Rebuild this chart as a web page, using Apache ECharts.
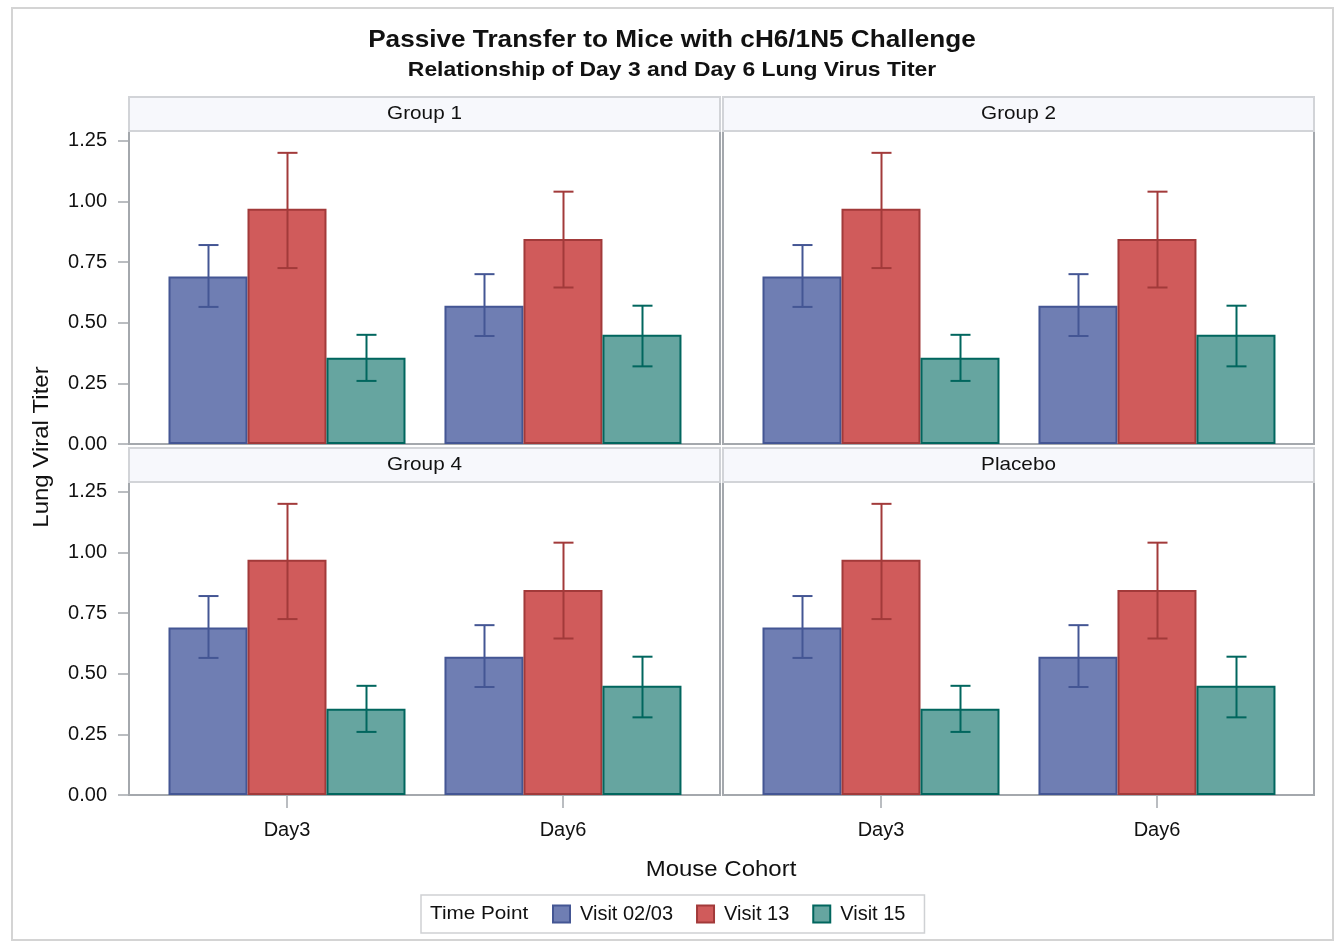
<!DOCTYPE html>
<html>
<head>
<meta charset="utf-8">
<title>Passive Transfer to Mice with cH6/1N5 Challenge</title>
<script src="https://cdn.jsdelivr.net/npm/echarts@6/dist/echarts.min.js"></script>
<style>
  html, body { margin: 0; padding: 0; background: #fff; }
  #chart { width: 1340px; height: 942px; }
</style>
</head>
<body>
<div id="chart"></div>
<script>
// ---- data -------------------------------------------------------------
const panels = ['Group 1', 'Group 2', 'Group 4', 'Placebo'];
const cohorts = ['Day3', 'Day6'];
const visits = ['Visit 02/03', 'Visit 13', 'Visit 15'];

// mean lung viral titer per cohort (Day3, Day6)
const visit0203Mean = [0.69, 0.57];
const visit13Mean   = [0.97, 0.845];
const visit15Mean   = [0.355, 0.45];

// lower / upper error limits per cohort
const visit0203Low  = [0.565, 0.445];
const visit0203High = [0.82, 0.70];
const visit13Low    = [0.725, 0.645];
const visit13High   = [1.20, 1.04];
const visit15Low    = [0.26, 0.32];
const visit15High   = [0.45, 0.57];

const yTicks = [0, 0.25, 0.5, 0.75, 1.0, 1.25];

// ---- styling ----------------------------------------------------------
const FONT = '"Liberation Sans", Arial, Helvetica, sans-serif';
const fills   = ['#6F7EB3', '#D05B5B', '#66A5A0'];
const borders = ['#445694', '#A23A3A', '#01665E'];
const FRAME = '#a4a8ad';
const TEXT = '#111';
const WIDEN = 1.09;          // slightly wide lettering for free-standing texts
const BAR_PX = 79;
const CAP_PX = 20;

const means = [visit0203Mean, visit13Mean, visit15Mean];
const lows  = [visit0203Low, visit13Low, visit15Low];
const highs = [visit0203High, visit13High, visit15High];

// panel frames: [left, top] of each plot area
const PW = 591, PH = 313;
const frames = [[129, 131], [723, 131], [129, 482], [723, 482]];
const HEADER_H = 34;

const grids = [], xAxes = [], yAxes = [], series = [], graphics = [];

function label(text, x, y, font, opts) {
  return Object.assign({
    type: 'text', x: x, y: y, scaleX: WIDEN, z: 10,
    style: { text: text, font: font + ' ' + FONT, fill: TEXT,
      textAlign: (opts && opts.align) || 'center', textVerticalAlign: 'middle' }
  }, opts && opts.rotation ? { rotation: opts.rotation } : {});
}

frames.forEach(([l, t], p) => {
  const isLeft = (p % 2 === 0);
  const isBottom = (p >= 2);
  grids.push({ left: l, top: t, width: PW, height: PH, show: true,
    borderColor: FRAME, borderWidth: 2, backgroundColor: '#fff' });

  xAxes.push({
    type: 'value', gridIndex: p, min: -0.5725, max: 1.569,
    splitLine: { show: false },
    axisLine: { show: true, onZero: false, lineStyle: { color: FRAME, width: 2 } },
    axisTick: { show: isBottom, customValues: [0, 1], length: 13,
      lineStyle: { color: FRAME, width: 1.5 } },
    axisLabel: { show: isBottom, customValues: [0, 1], margin: 25,
      fontFamily: FONT, fontSize: 20, color: TEXT,
      formatter: v => cohorts[Math.round(v)] }
  });

  yAxes.push({
    type: 'value', gridIndex: p, min: 0, max: 1.29,
    splitLine: { show: false },
    axisLine: { show: true, onZero: false, lineStyle: { color: FRAME, width: 2 } },
    axisTick: { show: isLeft, customValues: yTicks, length: 11,
      lineStyle: { color: FRAME, width: 1.5 } },
    axisLabel: { show: isLeft, customValues: yTicks, margin: 22,
      fontFamily: FONT, fontSize: 20, color: TEXT,
      formatter: v => v.toFixed(2) }
  });

  visits.forEach((name, k) => {
    series.push({
      type: 'bar', name: name, xAxisIndex: p, yAxisIndex: p,
      barWidth: BAR_PX, barGap: '0%',
      itemStyle: { color: fills[k], borderColor: borders[k], borderWidth: 2 },
      emphasis: { disabled: true },
      data: cohorts.map((c, i) => [i, means[k][i]]),
      z: 2
    });
  });

  visits.forEach((name, k) => {
    const offset = (k - 1) * BAR_PX;
    series.push({
      type: 'custom', name: name + ' limits', xAxisIndex: p, yAxisIndex: p,
      encode: { x: 0, y: [1, 2] },
      data: cohorts.map((c, i) => [i, lows[k][i], highs[k][i]]),
      z: 5,
      renderItem: (params, api) => {
        const lo = api.coord([api.value(0), api.value(1)]);
        const hi = api.coord([api.value(0), api.value(2)]);
        const cx = Math.round(lo[0] + offset) + 0.5;
        const st = { stroke: borders[k], lineWidth: 2 };
        return { type: 'group', children: [
          { type: 'line', shape: { x1: cx, y1: lo[1], x2: cx, y2: hi[1] }, style: st },
          { type: 'line', shape: { x1: cx - CAP_PX / 2, y1: hi[1], x2: cx + CAP_PX / 2, y2: hi[1] }, style: st },
          { type: 'line', shape: { x1: cx - CAP_PX / 2, y1: lo[1], x2: cx + CAP_PX / 2, y2: lo[1] }, style: st }
        ]};
      }
    });
  });

  // panel header strip
  graphics.push({
    type: 'rect', shape: { x: l, y: t - HEADER_H, width: PW, height: HEADER_H },
    style: { fill: '#f7f8fc', stroke: '#d2d4d8', lineWidth: 2 }, z: 1
  });
  graphics.push(label(panels[p], l + PW / 2, t - HEADER_H / 2, '19px'));
});

// outer frame
graphics.push({
  type: 'rect', shape: { x: 12, y: 8, width: 1321, height: 932 },
  style: { fill: null, stroke: '#d4d4d4', lineWidth: 2 }, z: 0
});
// titles
graphics.push(label('Passive Transfer to Mice with cH6/1N5 Challenge', 672, 40, 'bold 24px'));
graphics.push(label('Relationship of Day 3 and Day 6 Lung Virus Titer', 672, 70, 'bold 21px'));
// axis titles
graphics.push(label('Lung Viral Titer', 42, 447, '22px', { rotation: Math.PI / 2 }));
graphics.push(label('Mouse Cohort', 721, 870, '22px'));
// legend title
graphics.push(label('Time Point', 430, 914, '19px', { align: 'left' }));

const option = {
  backgroundColor: '#fff',
  animation: false,
  legend: {
    data: visits, left: 421, top: 895,
    padding: [9, 19, 9, 131],
    itemWidth: 17, itemHeight: 17, itemGap: 23, icon: 'rect',
    selectedMode: false,
    borderColor: '#cfd1d4', borderWidth: 1.5,
    textStyle: { fontFamily: FONT, fontSize: 20, color: TEXT, padding: [0, 0, 0, 5] }
  },
  grid: grids,
  xAxis: xAxes,
  yAxis: yAxes,
  series: series,
  graphic: graphics
};

const chart = echarts.init(document.getElementById('chart'), null, { renderer: 'canvas' });
chart.setOption(option);
</script>
</body>
</html>
